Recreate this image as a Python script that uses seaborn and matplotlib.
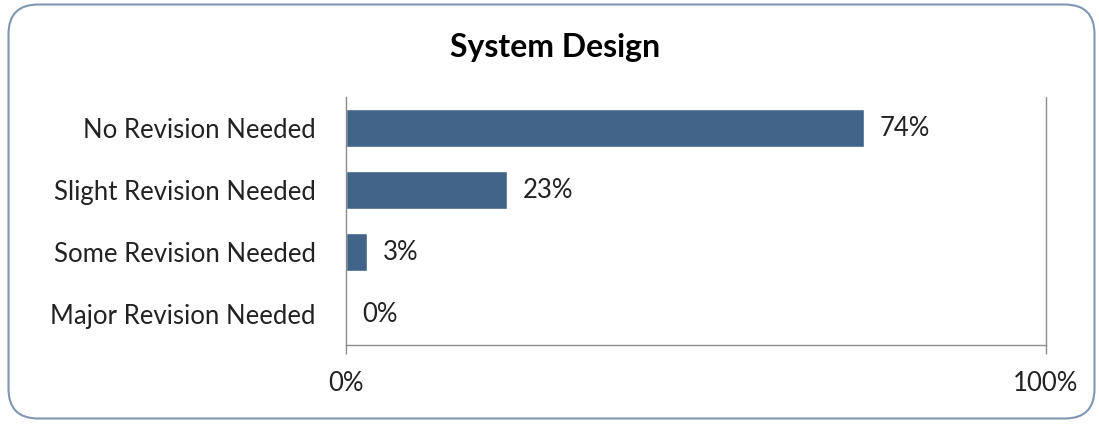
import matplotlib
matplotlib.use("Agg")
import matplotlib.pyplot as plt
from matplotlib.patches import FancyBboxPatch
import seaborn as sns
import pandas as pd

categories = ["No Revision Needed", "Slight Revision Needed", "Some Revision Needed", "Major Revision Needed"]
values = [74, 23, 3, 0]
value_labels = ["74%", "23%", "3%", "0%"]
x_ticks = [0, 100]
x_tick_labels = ["0%", "100%"]
title = "System Design"

sns.set_theme(style="white")
plt.rcParams['font.family'] = ['Lato', 'DejaVu Sans']

df = pd.DataFrame({"category": categories, "value": values})

fig = plt.figure(figsize=(10.99, 4.24), dpi=100)
ax = fig.add_axes([346/1099, 1-345/424, 700/1099, 248/424])

sns.barplot(data=df, x="value", y="category", orient="h", color="#426489",
            saturation=1, width=0.61, ax=ax, order=categories)

FS = 18.5
ax.set_xlim(0, 100)
ax.set_ylim(3.5, -0.5)
ax.set_xlabel("")
ax.set_ylabel("")
ax.set_xticks(x_ticks)
ax.set_xticklabels(x_tick_labels, fontsize=FS, color="#222222")
ax.tick_params(axis="x", length=6.5, width=1, color="#8c8c8c", pad=12, bottom=True)
ax.tick_params(axis="y", length=0, pad=21.6, labelsize=FS, labelcolor="#222222")
for lbl in ax.get_yticklabels():
    lbl.set_fontsize(FS)

for s in ["top", "right"]:
    ax.spines[s].set_visible(False)
for s in ["left", "bottom"]:
    ax.spines[s].set_color("#8c8c8c")
    ax.spines[s].set_linewidth(1)
ax.axvline(100, color="#8c8c8c", lw=1, clip_on=False)

for i, (v, t) in enumerate(zip(values, value_labels)):
    ax.text(v + 2.3, i, t, va="center", ha="left", fontsize=FS, color="#222222")

fig.text(555/1099, 1-48/424, title, ha="center", va="center", fontsize=23, fontweight="bold", color="#000000")

border = FancyBboxPatch((8.5/1099, 5.5/424), 1086/1099, 414/424,
                        boxstyle="round,pad=0,rounding_size=0.027",
                        transform=fig.transFigure, fill=False,
                        edgecolor="#7f97b2", linewidth=1.5,
                        mutation_aspect=1099/424)
fig.patches.append(border)

fig.savefig("out.png", dpi=100)
